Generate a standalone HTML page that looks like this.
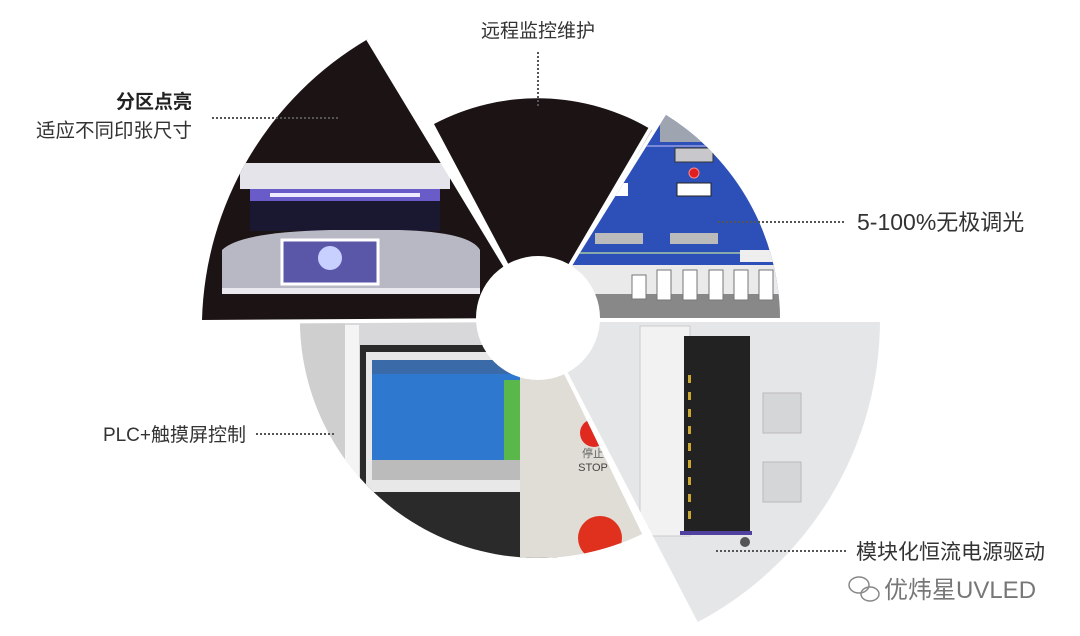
<!DOCTYPE html>
<html><head><meta charset="utf-8"><style>
html,body{margin:0;padding:0;background:#fff;}
body{width:1080px;height:636px;overflow:hidden;position:relative;font-family:"Liberation Sans","Noto Sans CJK SC",sans-serif;}
</style></head><body>
<svg width="1080" height="636" viewBox="0 0 1080 636" xmlns="http://www.w3.org/2000/svg" style="position:absolute;left:0;top:0">
<defs>
<clipPath id="ctl"><path d="M538,320 L202,320 A336,336 0 0 1 368,39 Z"/></clipPath>
<clipPath id="cbl"><path d="M538,320 L666,115 A242,242 0 0 1 780,320 Z"/></clipPath>
<clipPath id="ccab"><path d="M538,320 L880,320 A342,342 0 0 1 696,623 Z"/></clipPath>
<clipPath id="cplc"><path d="M538,320 L642,534 A238,238 0 0 1 300,320 Z"/></clipPath>
</defs>
<path d="M538,320 L202,320 A336,336 0 0 1 368,39 Z" fill="#1c1414"/>
<g clip-path="url(#ctl)">
<rect x="240" y="163" width="210" height="26" fill="#e4e4ea"/>
<rect x="250" y="189" width="190" height="12" fill="#6a5cc8"/>
<rect x="270" y="193" width="150" height="4" fill="#eeeaff"/>
<rect x="250" y="201" width="190" height="30" fill="#1a1838" opacity="0.8"/>
<path d="M222,290 L222,250 Q240,232 330,230 L400,230 Q470,232 480,250 L480,290 Z" fill="#b8b8c4"/>
<rect x="282" y="240" width="96" height="44" fill="#5a56a8" stroke="#fff" stroke-width="3"/>
<circle cx="330" cy="258" r="12" fill="#c8d0ff"/>
<rect x="222" y="288" width="258" height="6" fill="#e8e8ee"/>
</g>
<path d="M538,320 L434,124 A222,222 0 0 1 652,130 Z" fill="#1c1414"/>
<path d="M538,320 L666,115 A242,242 0 0 1 780,320 Z" fill="#2d50b8"/>
<g clip-path="url(#cbl)">
<rect x="660" y="110" width="130" height="32" fill="#9ea4b0"/>
<rect x="560" y="145" width="230" height="2" fill="#7a8ad8"/>
<rect x="675" y="148" width="38" height="14" fill="#c8c8cc" stroke="#333"/>
<circle cx="694" cy="173" r="5" fill="#e02020" stroke="#f88" />
<rect x="677" y="183" width="34" height="13" fill="#fff" stroke="#222"/>
<rect x="600" y="183" width="28" height="13" fill="#fff"/>
<rect x="595" y="233" width="48" height="11" fill="#bbb"/>
<rect x="670" y="233" width="48" height="11" fill="#bbb"/>
<rect x="540" y="252" width="250" height="2" fill="#8aa"/>
<rect x="540" y="265" width="250" height="60" fill="#eaeaea"/>
<rect x="540" y="294" width="250" height="26" fill="#888"/>
<g fill="#fff" stroke="#777"><rect x="632" y="275" width="14" height="24"/><rect x="657" y="270" width="14" height="30"/><rect x="683" y="270" width="14" height="30"/><rect x="709" y="270" width="14" height="30"/><rect x="734" y="270" width="14" height="30"/><rect x="759" y="270" width="14" height="30"/></g>
<rect x="740" y="250" width="40" height="12" fill="#eee"/>
</g>
<path d="M538,320 L880,320 A342,342 0 0 1 696,623 Z" fill="#e4e6e8"/>
<g clip-path="url(#ccab)">
<rect x="640" y="326" width="50" height="210" fill="#f2f2f2" stroke="#ccc"/>
<rect x="684" y="336" width="66" height="195" fill="#222"/>
<g fill="#caa832"><rect x="688" y="375" width="3" height="8"/><rect x="688" y="392" width="3" height="8"/><rect x="688" y="409" width="3" height="8"/><rect x="688" y="426" width="3" height="8"/><rect x="688" y="443" width="3" height="8"/><rect x="688" y="460" width="3" height="8"/><rect x="688" y="477" width="3" height="8"/><rect x="688" y="494" width="3" height="8"/><rect x="688" y="511" width="3" height="8"/></g>
<rect x="680" y="531" width="72" height="4" fill="#5040a0"/>
<rect x="763" y="393" width="38" height="40" fill="#d4d6d8" stroke="#bbb"/>
<rect x="763" y="462" width="38" height="40" fill="#d4d6d8" stroke="#bbb"/>
<circle cx="745" cy="542" r="5" fill="#555"/>
</g>
<path d="M538,320 L642,534 A238,238 0 0 1 300,320 Z" fill="#d8d8da"/>
<g clip-path="url(#cplc)">
<rect x="300" y="320" width="45" height="260" fill="#cfcfd0"/>
<rect x="345" y="325" width="14" height="260" fill="#f4f4f4"/>
<rect x="360" y="345" width="200" height="220" fill="#2a2a2a"/>
<rect x="366" y="352" width="190" height="140" fill="#e8e8e8"/>
<rect x="372" y="360" width="150" height="115" fill="#2f78d0"/>
<rect x="372" y="360" width="150" height="14" fill="#3a6aa8"/>
<rect x="504" y="380" width="24" height="90" fill="#5ab84a"/>
<rect x="372" y="460" width="150" height="20" fill="#bbb"/>
<rect x="520" y="320" width="130" height="260" fill="#e0ddd6"/>
<circle cx="594" cy="433" r="14" fill="#e02a20"/>
<text x="593" y="471" font-size="11" fill="#444" text-anchor="middle">STOP</text>
<text x="593" y="457" font-size="11" fill="#666" text-anchor="middle">停止</text>
<circle cx="600" cy="538" r="22" fill="#e0301e"/>
</g>
<g stroke="#fff" stroke-width="4">
<line x1="538" y1="320" x2="368" y2="39"/>
<line x1="538" y1="320" x2="660" y2="112"/>
<line x1="538" y1="320" x2="880" y2="320"/>
<line x1="538" y1="320" x2="200" y2="322"/>
<line x1="538" y1="320" x2="696" y2="623"/>
</g>
<circle cx="538" cy="318" r="62" fill="#fff"/>
<g stroke="#555" stroke-width="2" stroke-dasharray="2,2">
<line x1="538" y1="52" x2="538" y2="106"/>
<line x1="212" y1="118" x2="340" y2="118"/>
<line x1="718" y1="222" x2="846" y2="222"/>
<line x1="256" y1="434" x2="336" y2="434"/>
<line x1="716" y1="551" x2="846" y2="551"/>
</g>
<g font-family="Liberation Sans, Noto Sans CJK SC, sans-serif" fill="#333" font-size="19">
<text x="538" y="37" text-anchor="middle">远程监控维护</text>
<text x="192" y="108" text-anchor="end" font-weight="bold" fill="#222">分区点亮</text>
<text x="192" y="137" text-anchor="end" font-size="19.5">适应不同印张尺寸</text>
<text x="857" y="230" font-size="22"><tspan font-size="23">5-100%</tspan>无极调光</text>
<text x="246" y="441" text-anchor="end">PLC+触摸屏控制</text>
<text x="856" y="559" font-size="21">模块化恒流电源驱动</text>
<text x="884" y="598" font-size="24" fill="#777">优炜星UVLED</text>
</g>
<g fill="none" stroke="#888" stroke-width="1.5">
<ellipse cx="859" cy="585" rx="10" ry="8"/>
<ellipse cx="870" cy="594" rx="9" ry="7"/>
</g>
</svg>
</body></html>
